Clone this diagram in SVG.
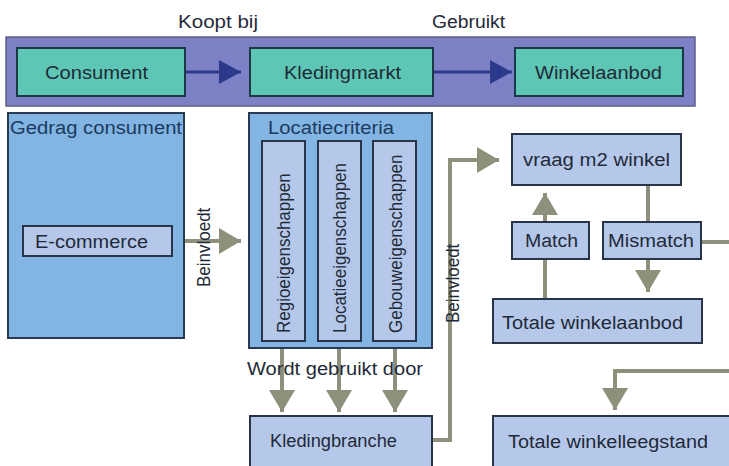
<svg xmlns="http://www.w3.org/2000/svg" width="729" height="466" viewBox="0 0 729 466">
  <defs>
    <style>
      text { font-family: "Liberation Sans", Arial, sans-serif; font-size: 18px; fill: #1f2a38; }
      .v { font-size: 17px; }
      .band { fill: #7c80c5; stroke: #5c5f86; stroke-width: 1.5; }
      .teal { fill: #5ec6b4; stroke: #1d3845; stroke-width: 2; }
      .panel { fill: #82b5e3; stroke: #293a52; stroke-width: 2; }
      .item { fill: #b6c8ea; stroke: #2a3448; stroke-width: 2; }
      .title { fill: #1c3a5e; }
      .flow { fill: none; stroke: #2d3a8c; stroke-width: 3; }
      .link { fill: none; stroke: #8e907c; stroke-width: 4; }
    </style>
    <marker id="headBlue" markerUnits="userSpaceOnUse" markerWidth="22" markerHeight="24" viewBox="0 0 22 24" refX="22" refY="12" orient="auto">
      <path d="M0,0 L22,12 L0,24 Z" fill="#2d3a8c"/>
    </marker>
    <marker id="headGrey" markerUnits="userSpaceOnUse" markerWidth="22" markerHeight="26" viewBox="0 0 22 26" refX="22" refY="13" orient="auto">
      <path d="M0,0 L22,13 L0,26 Z" fill="#8e907c"/>
    </marker>
  </defs>

  <rect width="729" height="466" fill="#ffffff"/>

  <!-- top chain: consumer, market, supply -->
  <rect class="band" x="6" y="37" width="689" height="69"/>

  <g id="connectors">
    <path class="flow" d="M185,72 H241" marker-end="url(#headBlue)"/>
    <path class="flow" d="M433,72 H512" marker-end="url(#headBlue)"/>
    <path class="link" d="M172,241 H241" marker-end="url(#headGrey)"/>
    <path class="link" d="M282,348 V412" marker-end="url(#headGrey)"/>
    <path class="link" d="M339,348 V412" marker-end="url(#headGrey)"/>
    <path class="link" d="M395,348 V412" marker-end="url(#headGrey)"/>
    <path class="link" d="M432,440 H450 V160 H499" marker-end="url(#headGrey)"/>
    <path class="link" d="M545,299 V193" marker-end="url(#headGrey)"/>
    <path class="link" d="M648,185 V292" marker-end="url(#headGrey)"/>
    <path class="link" d="M701,242 H740 V371 H615 V410" marker-end="url(#headGrey)"/>
  </g>

  <g id="labels">
    <text x="178" y="28" textLength="80" lengthAdjust="spacingAndGlyphs">Koopt bij</text>
    <text x="432" y="28" textLength="73" lengthAdjust="spacingAndGlyphs">Gebruikt</text>
    <text class="v" transform="translate(210,287) rotate(-90) scale(1,1.12)">Beinvloedt</text>
    <text x="247" y="375" textLength="176" lengthAdjust="spacingAndGlyphs">Wordt gebruikt door</text>
  </g>

  <g id="consument">
    <rect class="teal" x="17" y="48" width="168" height="48"/>
    <text x="45" y="79" textLength="103" lengthAdjust="spacingAndGlyphs">Consument</text>
  </g>
  <g id="kledingmarkt">
    <rect class="teal" x="250" y="48" width="183" height="48"/>
    <text x="284" y="79" textLength="117" lengthAdjust="spacingAndGlyphs">Kledingmarkt</text>
  </g>
  <g id="winkelaanbod">
    <rect class="teal" x="515" y="48" width="168" height="48"/>
    <text x="535" y="79" textLength="127" lengthAdjust="spacingAndGlyphs">Winkelaanbod</text>
  </g>

  <g id="gedrag-consument">
    <rect class="panel" x="8" y="113" width="176" height="225"/>
    <text class="title" x="10" y="134" textLength="172" lengthAdjust="spacingAndGlyphs">Gedrag consument</text>
  </g>
  <g id="e-commerce">
    <rect class="item" x="23" y="226" width="149" height="30"/>
    <text x="35" y="248" textLength="113" lengthAdjust="spacingAndGlyphs">E-commerce</text>
  </g>

  <g id="locatiecriteria">
    <rect class="panel" x="249" y="113" width="183" height="235"/>
    <text class="title" x="268" y="134" textLength="126" lengthAdjust="spacingAndGlyphs">Locatiecriteria</text>
  </g>
  <g id="regioeigenschappen">
    <rect class="item" x="262" y="141" width="43" height="200"/>
    <text class="v" transform="translate(290,333) rotate(-90) scale(1,1.12)">Regioeigenschappen</text>
  </g>
  <g id="locatieeigenschappen">
    <rect class="item" x="318" y="141" width="43" height="200"/>
    <text class="v" transform="translate(346,333) rotate(-90) scale(1,1.12)">Locatieeigenschappen</text>
  </g>
  <g id="gebouweigenschappen">
    <rect class="item" x="373" y="141" width="43" height="200"/>
    <text class="v" transform="translate(402,333) rotate(-90) scale(1,1.12)">Gebouweigenschappen</text>
  </g>

  <g id="kledingbranche">
    <rect class="item" x="250" y="416" width="182" height="60"/>
    <text x="270" y="447" textLength="127" lengthAdjust="spacingAndGlyphs">Kledingbranche</text>
  </g>

  <g id="labels-right">
    <text class="v" transform="translate(459,323) rotate(-90) scale(1,1.12)">Beinvloedt</text>
  </g>

  <g id="vraag-m2-winkel">
    <rect class="item" x="512" y="134" width="169" height="51"/>
    <text x="523" y="166" textLength="147" lengthAdjust="spacingAndGlyphs">vraag m2 winkel</text>
  </g>
  <g id="match">
    <rect class="item" x="512" y="222" width="77" height="37"/>
    <text x="525" y="247" textLength="53" lengthAdjust="spacingAndGlyphs">Match</text>
  </g>
  <g id="mismatch">
    <rect class="item" x="603" y="222" width="98" height="37"/>
    <text x="608" y="247" textLength="86" lengthAdjust="spacingAndGlyphs">Mismatch</text>
  </g>
  <g id="totale-winkelaanbod">
    <rect class="item" x="493" y="299" width="209" height="44"/>
    <text x="502" y="329" textLength="181" lengthAdjust="spacingAndGlyphs">Totale winkelaanbod</text>
  </g>
  <g id="totale-winkelleegstand">
    <rect class="item" x="493" y="416" width="250" height="60"/>
    <text x="508" y="448" textLength="200" lengthAdjust="spacingAndGlyphs">Totale winkelleegstand</text>
  </g>
</svg>
